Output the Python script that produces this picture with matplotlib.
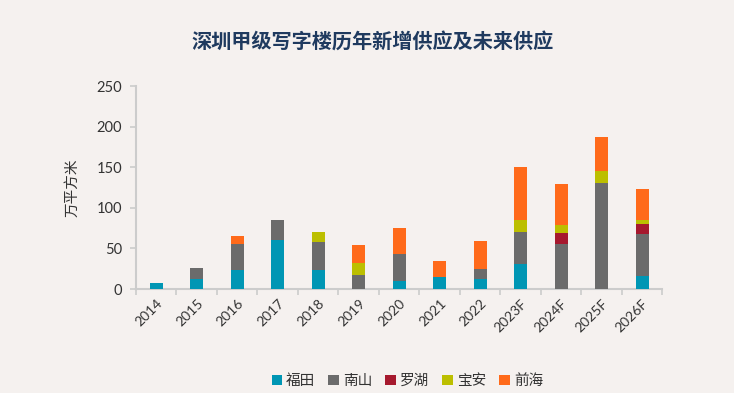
import matplotlib
matplotlib.use("Agg")
import matplotlib.pyplot as plt
import numpy as np

plt.rcParams['font.family'] = ['Lato', 'Noto Sans CJK SC', 'DejaVu Sans']

years = ['2014', '2015', '2016', '2017', '2018', '2019', '2020', '2021', '2022',
         '2023F', '2024F', '2025F', '2026F']
futian  = [8, 12, 24, 60, 23, 0, 10, 15, 12, 31, 0, 0, 16]
nanshan = [0, 14, 31, 25, 35, 17, 33, 0, 13, 39, 56, 131, 52]
luohu   = [0, 0, 0, 0, 0, 0, 0, 0, 0, 0, 13, 0, 12]
baoan   = [0, 0, 0, 0, 12, 15, 0, 0, 0, 15, 10, 14, 5]
qianhai = [0, 0, 10, 0, 0, 22, 32, 20, 34, 65, 50, 42, 38]

series = [('福田', futian, '#0096B4'),
          ('南山', nanshan, '#6B6B6B'),
          ('罗湖', luohu, '#A6192E'),
          ('宝安', baoan, '#BCBF00'),
          ('前海', qianhai, '#FF6A1A')]

bg = '#F5F1EF'
fig = plt.figure(figsize=(7.34, 3.93), dpi=100, facecolor=bg)
ax = fig.add_axes([0.1853, 0.2646, 0.7170, 0.5165], facecolor=bg)

x = np.arange(len(years))
bottom = np.zeros(len(years))
handles = []
for name, vals, col in series:
    v = np.array(vals, dtype=float)
    h = ax.bar(x, v, width=0.32, bottom=bottom, color=col, label=name, zorder=3)
    bottom += v
    handles.append(h)

ax.set_xlim(-0.5, len(years) - 0.5)
ax.set_ylim(0, 250)
ax.set_yticks([0, 50, 100, 150, 200, 250])
ax.set_xticks(np.arange(-0.5, len(years), 1.0))
ax.set_xticklabels([])
ax.set_xticks(x, minor=True)
ax.set_xticklabels(years, minor=True, rotation=45, ha='right', va='top',
                   rotation_mode='anchor', fontsize=10, color='#333333')
ax.tick_params(axis='x', which='minor', length=0, pad=6)
ax.tick_params(axis='x', which='major', length=4, color='#CCCCCC', width=1.2)
ax.tick_params(axis='y', length=4, color='#CCCCCC', width=1.2, labelsize=10.5,
               labelcolor='#333333', pad=6)

for s in ['top', 'right']:
    ax.spines[s].set_visible(False)
for s in ['left', 'bottom']:
    ax.spines[s].set_color('#CCCCCC')
    ax.spines[s].set_linewidth(1.5)

ax.set_ylabel('万平方米', fontsize=10.5, color='#333333', labelpad=12)

fig.text(0.507, 0.893, '深圳甲级写字楼历年新增供应及未来供应', ha='center', va='center',
         fontsize=14.5, fontweight='bold', color='#1F3A5F')

fig.legend(handles=handles, labels=[s[0] for s in series], loc='center',
           bbox_to_anchor=(0.555, 0.03), ncol=5, frameon=False, fontsize=10.5,
           handlelength=0.7, handleheight=0.7, handletextpad=0.3, columnspacing=0.9,
           labelcolor='#333333')

fig.savefig('out.png', dpi=100, facecolor=bg)
